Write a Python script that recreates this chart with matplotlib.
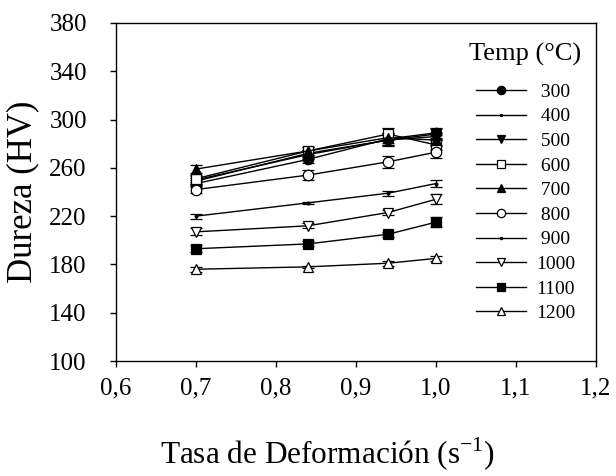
import matplotlib
matplotlib.use("Agg")
import matplotlib.pyplot as plt
from matplotlib.ticker import FixedLocator, FuncFormatter

plt.rcParams['font.family'] = ['Liberation Serif', 'DejaVu Serif']
plt.rcParams['mathtext.fontset'] = 'custom'
plt.rcParams['mathtext.rm'] = 'Liberation Serif'

strain_rate = [0.70, 0.84, 0.94, 1.00]
temps = ["300", "400", "500", "600", "700", "800", "900", "1000", "1100", "1200"]

hv_300 = [247, 267, 284, 289]
hv_400 = [249, 272, 283, 286]
hv_500 = [250, 271, 283, 288]
hv_600 = [251, 274, 288, 279]
hv_700 = [259, 274, 285, 283]
hv_800 = [242, 254, 265, 273]
hv_900 = [220, 231, 239, 247]
hv_1000 = [207, 212, 223, 234]
hv_1100 = [193, 197, 205, 215]
hv_1200 = [176, 178, 181, 185]

err_300 = [3, 3, 5, 4]
err_400 = [3, 3, 4, 3]
err_500 = [3, 4, 5, 4]
err_600 = [3, 3, 5, 4]
err_700 = [3, 3, 4, 4]
err_800 = [3, 4, 5, 5]
err_900 = [2, 1, 2, 3]
err_1000 = [3, 2, 2, 4]
err_1100 = [3, 2, 2, 4]
err_1200 = [2, 1, 2, 2]

values = [hv_300, hv_400, hv_500, hv_600, hv_700, hv_800, hv_900, hv_1000, hv_1100, hv_1200]
errors = [err_300, err_400, err_500, err_600, err_700, err_800, err_900, err_1000, err_1100, err_1200]

# marker style per series: (marker, facecolor, size)
styles = [('o', 'black', 7.5), ('.', 'black', 4), ('v', 'black', 7.5), ('s', 'white', 7),
          ('^', 'black', 7.5), ('o', 'white', 7.5), ('.', 'black', 4), ('v', 'white', 7.5),
          ('s', 'black', 7), ('^', 'white', 7.5)]

fig = plt.figure(figsize=(6.16, 4.76), dpi=100)
ax = fig.add_axes([116/616, 1-361/476, 480/616, 338/476])

handles = []
for vals, errs, (m, fc, ms) in zip(values, errors, styles):
    c = ax.errorbar(strain_rate, vals, yerr=errs, color='black', marker=m, markersize=ms,
                    markerfacecolor=fc, markeredgecolor='black', markeredgewidth=0.9,
                    linewidth=1.0, elinewidth=1.0, capsize=4.5, capthick=1.0)
    handles.append(c.lines[0])

ax.set_xlim(0.6, 1.2)
ax.set_ylim(100, 380)
ax.xaxis.set_major_locator(FixedLocator([0.6, 0.7, 0.8, 0.9, 1.0, 1.1, 1.2]))
ax.yaxis.set_major_locator(FixedLocator([100, 140, 180, 220, 260, 300, 340, 380]))
ax.xaxis.set_major_formatter(FuncFormatter(lambda v, p: f"{v:.1f}".replace('.', ',')))
ax.yaxis.set_major_formatter(FuncFormatter(lambda v, p: f"{v:.0f}"))
ax.tick_params(direction='out', length=4, width=1, labelsize=18, top=False, right=False)
ax.tick_params(axis='x', pad=8)
ax.tick_params(axis='y', pad=17)
for s in ax.spines.values():
    s.set_linewidth(1.0)

ax.set_xlabel(r"Tasa de Deformación (s$^{\mathregular{-1}}$)", fontsize=22.5, labelpad=26, x=0.44)
ax.set_ylabel("Dureza (HV)", fontsize=25, labelpad=7)

labels = [(" " + t) if len(t) == 3 else t for t in temps]
leg = ax.legend(handles, labels, title="Temp (°C)", frameon=False, fontsize=14,
                title_fontsize=19, loc='upper right', bbox_to_anchor=(0.998, 0.98),
                handlelength=2.6, handletextpad=0.5, labelspacing=0.36, borderaxespad=0.3,
                markerscale=0.8)
leg._legend_box.sep = 12

fig.savefig("out.png", dpi=100)
